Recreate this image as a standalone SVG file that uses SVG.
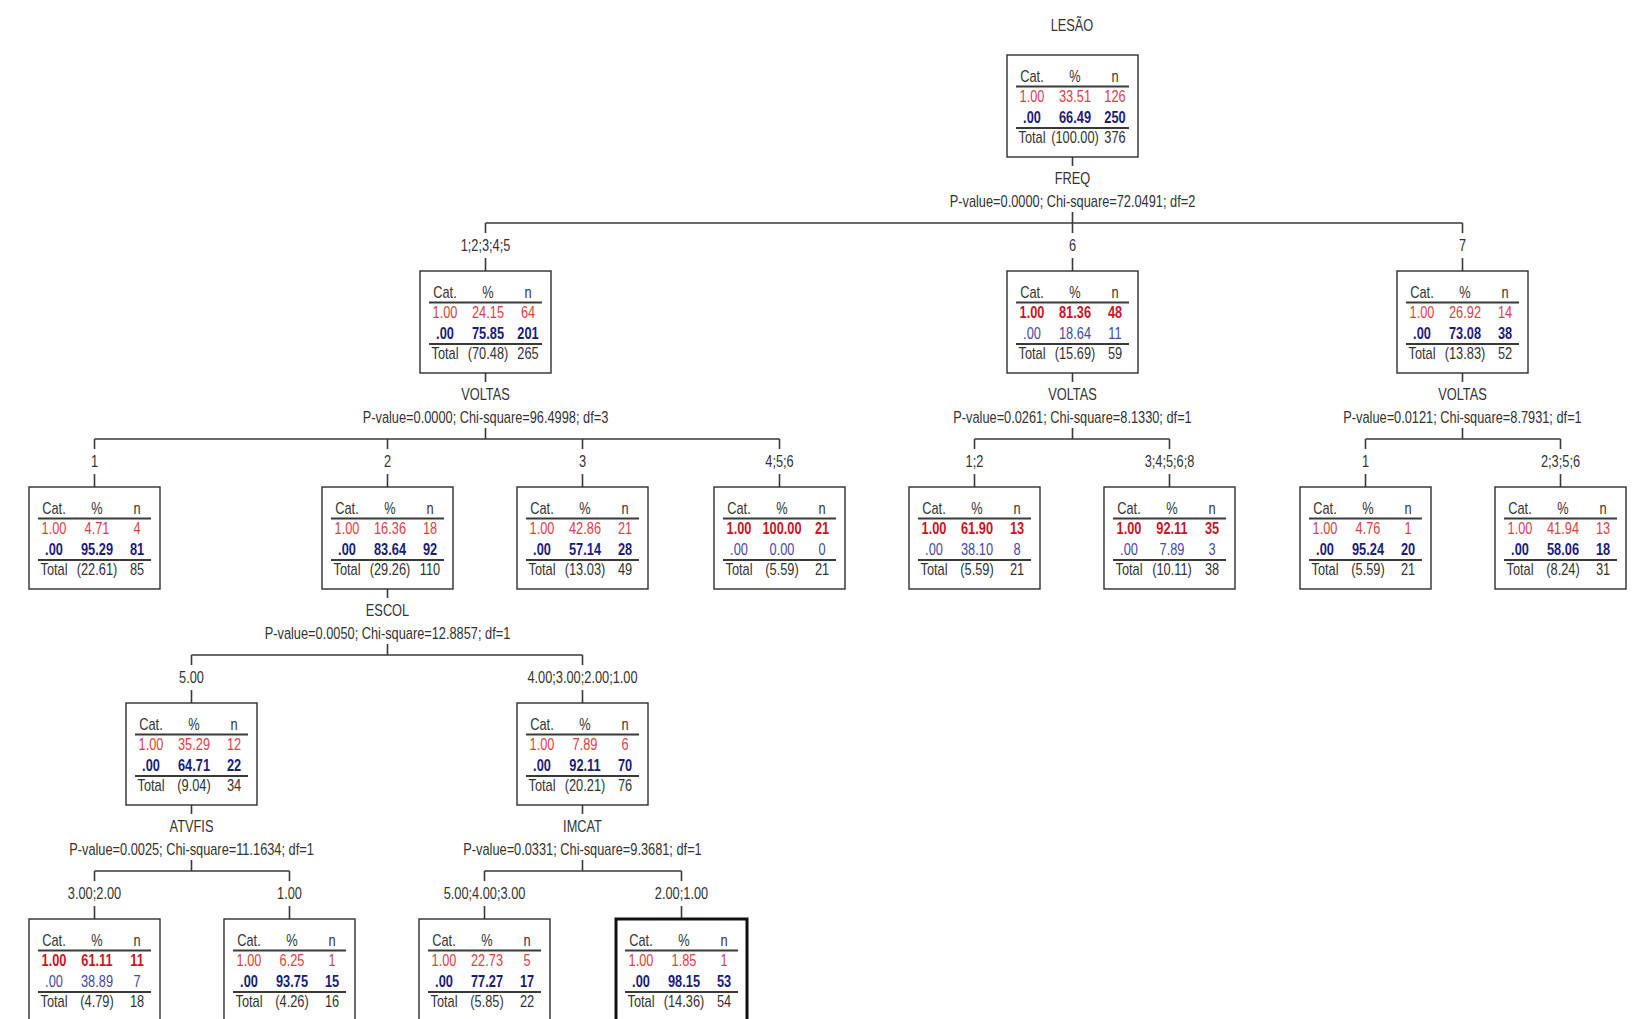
<svg xmlns="http://www.w3.org/2000/svg" width="1636" height="1019" viewBox="0 0 1636 1019">
<style>
text{font-family:"Liberation Sans",Arial,sans-serif;font-size:16px;fill:#333}
.lbl{text-anchor:middle}
.box{fill:#fff;stroke:#2e2e2e;stroke-width:1.4}
.thick{fill:#fff;stroke:#111;stroke-width:3}
.rule{stroke:#3a3a3a;stroke-width:2;fill:none}
.conn{stroke:#3a3a3a;stroke-width:1.6;fill:none}
.c1{text-anchor:middle}
.c2{text-anchor:middle}
.c3{text-anchor:middle}
.r{fill:#e0403f}
.rb{fill:#cc1424;font-weight:bold}
.b{fill:#4848a8}
.bb{fill:#1c1c7a;font-weight:bold}
</style>
<defs>
<g id="frame"><rect class="box" x="0" y="0" width="131" height="102"/><path class="rule" d="M9 31.5H122M9 73H122"/></g>
<g id="frameT"><rect class="thick" x="0" y="0" width="131" height="102"/><path class="rule" d="M9 31.5H122M9 73H122"/></g>
<g id="hdr"><text class="c1" x="31.25" y="27.5">Cat.</text><text class="c2" x="85" y="27.5">%</text><text class="c3" x="135" y="27.5">n</text></g>
</defs>

<g id="connectors">
<path class="conn" d="M1072.5 157V166M1072.5 212V223M485.5 223H1462.5M485.5 223V233M485.5 258V271M1072.5 223V233M1072.5 258V271M1462.5 223V233M1462.5 258V271"/>
<path class="conn" d="M485.5 373V382M485.5 428V439M94.5 439H779.5M94.5 439V449M94.5 474V487M387.5 439V449M387.5 474V487M582.5 439V449M582.5 474V487M779.5 439V449M779.5 474V487"/>
<path class="conn" d="M1072.5 373V382M1072.5 428V439M974.5 439H1169.5M974.5 439V449M974.5 474V487M1169.5 439V449M1169.5 474V487"/>
<path class="conn" d="M1462.5 373V382M1462.5 428V439M1365.5 439H1560.5M1365.5 439V449M1365.5 474V487M1560.5 439V449M1560.5 474V487"/>
<path class="conn" d="M387.5 589V598M387.5 644V655M191.5 655H582.5M191.5 655V665M191.5 690V703M582.5 655V665M582.5 690V703"/>
<path class="conn" d="M191.5 805V814M191.5 860V871M94.5 871H289.5M94.5 871V881M94.5 906V919M289.5 871V881M289.5 906V919"/>
<path class="conn" d="M582.5 805V814M582.5 860V871M484.5 871H681.5M484.5 871V881M484.5 906V919M681.5 871V881M681.5 906V919"/>
</g>

<g id="labels">
<text class="lbl" transform="translate(1072,31) scale(0.8,1)">LESÃO</text>
<text class="lbl" transform="translate(1072.5,184) scale(0.8,1)">FREQ</text>
<text class="lbl" transform="translate(1072.5,207) scale(0.8,1)">P-value=0.0000; Chi-square=72.0491; df=2</text>
<text class="lbl" transform="translate(485.5,251) scale(0.8,1)">1;2;3;4;5</text>
<text class="lbl" transform="translate(1072.5,251) scale(0.8,1)">6</text>
<text class="lbl" transform="translate(1462.5,251) scale(0.8,1)">7</text>

<text class="lbl" transform="translate(485.5,400) scale(0.8,1)">VOLTAS</text>
<text class="lbl" transform="translate(485.5,423) scale(0.8,1)">P-value=0.0000; Chi-square=96.4998; df=3</text>
<text class="lbl" transform="translate(1072.5,400) scale(0.8,1)">VOLTAS</text>
<text class="lbl" transform="translate(1072.5,423) scale(0.8,1)">P-value=0.0261; Chi-square=8.1330; df=1</text>
<text class="lbl" transform="translate(1462.5,400) scale(0.8,1)">VOLTAS</text>
<text class="lbl" transform="translate(1462.5,423) scale(0.8,1)">P-value=0.0121; Chi-square=8.7931; df=1</text>

<text class="lbl" transform="translate(94.5,467) scale(0.8,1)">1</text>
<text class="lbl" transform="translate(387.5,467) scale(0.8,1)">2</text>
<text class="lbl" transform="translate(582.5,467) scale(0.8,1)">3</text>
<text class="lbl" transform="translate(779.5,467) scale(0.8,1)">4;5;6</text>
<text class="lbl" transform="translate(974.5,467) scale(0.8,1)">1;2</text>
<text class="lbl" transform="translate(1169.5,467) scale(0.8,1)">3;4;5;6;8</text>
<text class="lbl" transform="translate(1365.5,467) scale(0.8,1)">1</text>
<text class="lbl" transform="translate(1560.5,467) scale(0.8,1)">2;3;5;6</text>

<text class="lbl" transform="translate(387.5,616) scale(0.8,1)">ESCOL</text>
<text class="lbl" transform="translate(387.5,639) scale(0.8,1)">P-value=0.0050; Chi-square=12.8857; df=1</text>
<text class="lbl" transform="translate(191.5,683) scale(0.8,1)">5.00</text>
<text class="lbl" transform="translate(582.5,683) scale(0.8,1)">4.00;3.00;2.00;1.00</text>

<text class="lbl" transform="translate(191.5,832) scale(0.8,1)">ATVFIS</text>
<text class="lbl" transform="translate(191.5,855) scale(0.8,1)">P-value=0.0025; Chi-square=11.1634; df=1</text>
<text class="lbl" transform="translate(582.5,832) scale(0.8,1)">IMCAT</text>
<text class="lbl" transform="translate(582.5,855) scale(0.8,1)">P-value=0.0331; Chi-square=9.3681; df=1</text>
<text class="lbl" transform="translate(94.5,899) scale(0.8,1)">3.00;2.00</text>
<text class="lbl" transform="translate(289.5,899) scale(0.8,1)">1.00</text>
<text class="lbl" transform="translate(484.5,899) scale(0.8,1)">5.00;4.00;3.00</text>
<text class="lbl" transform="translate(681.5,899) scale(0.8,1)">2.00;1.00</text>
</g>

<g id="node-root" transform="translate(1007,55)"><use href="#frame"/><g transform="scale(0.8,1)"><use href="#hdr"/>
<text class="c1 r" x="31.25" y="47.5">1.00</text><text class="c2 r" x="85" y="47.5">33.51</text><text class="c3 r" x="135" y="47.5">126</text>
<text class="c1 bb" x="31.25" y="68">.00</text><text class="c2 bb" x="85" y="68">66.49</text><text class="c3 bb" x="135" y="68">250</text>
<text class="c1" x="31.25" y="88">Total</text><text class="c2" x="85" y="88">(100.00)</text><text class="c3" x="135" y="88">376</text></g></g>

<g id="node-1" transform="translate(420,271)"><use href="#frame"/><g transform="scale(0.8,1)"><use href="#hdr"/>
<text class="c1 r" x="31.25" y="47.5">1.00</text><text class="c2 r" x="85" y="47.5">24.15</text><text class="c3 r" x="135" y="47.5">64</text>
<text class="c1 bb" x="31.25" y="68">.00</text><text class="c2 bb" x="85" y="68">75.85</text><text class="c3 bb" x="135" y="68">201</text>
<text class="c1" x="31.25" y="88">Total</text><text class="c2" x="85" y="88">(70.48)</text><text class="c3" x="135" y="88">265</text></g></g>

<g id="node-2" transform="translate(1007,271)"><use href="#frame"/><g transform="scale(0.8,1)"><use href="#hdr"/>
<text class="c1 rb" x="31.25" y="47.5">1.00</text><text class="c2 rb" x="85" y="47.5">81.36</text><text class="c3 rb" x="135" y="47.5">48</text>
<text class="c1 b" x="31.25" y="68">.00</text><text class="c2 b" x="85" y="68">18.64</text><text class="c3 b" x="135" y="68">11</text>
<text class="c1" x="31.25" y="88">Total</text><text class="c2" x="85" y="88">(15.69)</text><text class="c3" x="135" y="88">59</text></g></g>

<g id="node-3" transform="translate(1397,271)"><use href="#frame"/><g transform="scale(0.8,1)"><use href="#hdr"/>
<text class="c1 r" x="31.25" y="47.5">1.00</text><text class="c2 r" x="85" y="47.5">26.92</text><text class="c3 r" x="135" y="47.5">14</text>
<text class="c1 bb" x="31.25" y="68">.00</text><text class="c2 bb" x="85" y="68">73.08</text><text class="c3 bb" x="135" y="68">38</text>
<text class="c1" x="31.25" y="88">Total</text><text class="c2" x="85" y="88">(13.83)</text><text class="c3" x="135" y="88">52</text></g></g>

<g id="node-4" transform="translate(29,487)"><use href="#frame"/><g transform="scale(0.8,1)"><use href="#hdr"/>
<text class="c1 r" x="31.25" y="47.5">1.00</text><text class="c2 r" x="85" y="47.5">4.71</text><text class="c3 r" x="135" y="47.5">4</text>
<text class="c1 bb" x="31.25" y="68">.00</text><text class="c2 bb" x="85" y="68">95.29</text><text class="c3 bb" x="135" y="68">81</text>
<text class="c1" x="31.25" y="88">Total</text><text class="c2" x="85" y="88">(22.61)</text><text class="c3" x="135" y="88">85</text></g></g>

<g id="node-5" transform="translate(322,487)"><use href="#frame"/><g transform="scale(0.8,1)"><use href="#hdr"/>
<text class="c1 r" x="31.25" y="47.5">1.00</text><text class="c2 r" x="85" y="47.5">16.36</text><text class="c3 r" x="135" y="47.5">18</text>
<text class="c1 bb" x="31.25" y="68">.00</text><text class="c2 bb" x="85" y="68">83.64</text><text class="c3 bb" x="135" y="68">92</text>
<text class="c1" x="31.25" y="88">Total</text><text class="c2" x="85" y="88">(29.26)</text><text class="c3" x="135" y="88">110</text></g></g>

<g id="node-6" transform="translate(517,487)"><use href="#frame"/><g transform="scale(0.8,1)"><use href="#hdr"/>
<text class="c1 r" x="31.25" y="47.5">1.00</text><text class="c2 r" x="85" y="47.5">42.86</text><text class="c3 r" x="135" y="47.5">21</text>
<text class="c1 bb" x="31.25" y="68">.00</text><text class="c2 bb" x="85" y="68">57.14</text><text class="c3 bb" x="135" y="68">28</text>
<text class="c1" x="31.25" y="88">Total</text><text class="c2" x="85" y="88">(13.03)</text><text class="c3" x="135" y="88">49</text></g></g>

<g id="node-7" transform="translate(714,487)"><use href="#frame"/><g transform="scale(0.8,1)"><use href="#hdr"/>
<text class="c1 rb" x="31.25" y="47.5">1.00</text><text class="c2 rb" x="85" y="47.5">100.00</text><text class="c3 rb" x="135" y="47.5">21</text>
<text class="c1 b" x="31.25" y="68">.00</text><text class="c2 b" x="85" y="68">0.00</text><text class="c3 b" x="135" y="68">0</text>
<text class="c1" x="31.25" y="88">Total</text><text class="c2" x="85" y="88">(5.59)</text><text class="c3" x="135" y="88">21</text></g></g>

<g id="node-8" transform="translate(909,487)"><use href="#frame"/><g transform="scale(0.8,1)"><use href="#hdr"/>
<text class="c1 rb" x="31.25" y="47.5">1.00</text><text class="c2 rb" x="85" y="47.5">61.90</text><text class="c3 rb" x="135" y="47.5">13</text>
<text class="c1 b" x="31.25" y="68">.00</text><text class="c2 b" x="85" y="68">38.10</text><text class="c3 b" x="135" y="68">8</text>
<text class="c1" x="31.25" y="88">Total</text><text class="c2" x="85" y="88">(5.59)</text><text class="c3" x="135" y="88">21</text></g></g>

<g id="node-9" transform="translate(1104,487)"><use href="#frame"/><g transform="scale(0.8,1)"><use href="#hdr"/>
<text class="c1 rb" x="31.25" y="47.5">1.00</text><text class="c2 rb" x="85" y="47.5">92.11</text><text class="c3 rb" x="135" y="47.5">35</text>
<text class="c1 b" x="31.25" y="68">.00</text><text class="c2 b" x="85" y="68">7.89</text><text class="c3 b" x="135" y="68">3</text>
<text class="c1" x="31.25" y="88">Total</text><text class="c2" x="85" y="88">(10.11)</text><text class="c3" x="135" y="88">38</text></g></g>

<g id="node-10" transform="translate(1300,487)"><use href="#frame"/><g transform="scale(0.8,1)"><use href="#hdr"/>
<text class="c1 r" x="31.25" y="47.5">1.00</text><text class="c2 r" x="85" y="47.5">4.76</text><text class="c3 r" x="135" y="47.5">1</text>
<text class="c1 bb" x="31.25" y="68">.00</text><text class="c2 bb" x="85" y="68">95.24</text><text class="c3 bb" x="135" y="68">20</text>
<text class="c1" x="31.25" y="88">Total</text><text class="c2" x="85" y="88">(5.59)</text><text class="c3" x="135" y="88">21</text></g></g>

<g id="node-11" transform="translate(1495,487)"><use href="#frame"/><g transform="scale(0.8,1)"><use href="#hdr"/>
<text class="c1 r" x="31.25" y="47.5">1.00</text><text class="c2 r" x="85" y="47.5">41.94</text><text class="c3 r" x="135" y="47.5">13</text>
<text class="c1 bb" x="31.25" y="68">.00</text><text class="c2 bb" x="85" y="68">58.06</text><text class="c3 bb" x="135" y="68">18</text>
<text class="c1" x="31.25" y="88">Total</text><text class="c2" x="85" y="88">(8.24)</text><text class="c3" x="135" y="88">31</text></g></g>

<g id="node-12" transform="translate(126,703)"><use href="#frame"/><g transform="scale(0.8,1)"><use href="#hdr"/>
<text class="c1 r" x="31.25" y="47.5">1.00</text><text class="c2 r" x="85" y="47.5">35.29</text><text class="c3 r" x="135" y="47.5">12</text>
<text class="c1 bb" x="31.25" y="68">.00</text><text class="c2 bb" x="85" y="68">64.71</text><text class="c3 bb" x="135" y="68">22</text>
<text class="c1" x="31.25" y="88">Total</text><text class="c2" x="85" y="88">(9.04)</text><text class="c3" x="135" y="88">34</text></g></g>

<g id="node-13" transform="translate(517,703)"><use href="#frame"/><g transform="scale(0.8,1)"><use href="#hdr"/>
<text class="c1 r" x="31.25" y="47.5">1.00</text><text class="c2 r" x="85" y="47.5">7.89</text><text class="c3 r" x="135" y="47.5">6</text>
<text class="c1 bb" x="31.25" y="68">.00</text><text class="c2 bb" x="85" y="68">92.11</text><text class="c3 bb" x="135" y="68">70</text>
<text class="c1" x="31.25" y="88">Total</text><text class="c2" x="85" y="88">(20.21)</text><text class="c3" x="135" y="88">76</text></g></g>

<g id="node-14" transform="translate(29,919)"><use href="#frame"/><g transform="scale(0.8,1)"><use href="#hdr"/>
<text class="c1 rb" x="31.25" y="47.5">1.00</text><text class="c2 rb" x="85" y="47.5">61.11</text><text class="c3 rb" x="135" y="47.5">11</text>
<text class="c1 b" x="31.25" y="68">.00</text><text class="c2 b" x="85" y="68">38.89</text><text class="c3 b" x="135" y="68">7</text>
<text class="c1" x="31.25" y="88">Total</text><text class="c2" x="85" y="88">(4.79)</text><text class="c3" x="135" y="88">18</text></g></g>

<g id="node-15" transform="translate(224,919)"><use href="#frame"/><g transform="scale(0.8,1)"><use href="#hdr"/>
<text class="c1 r" x="31.25" y="47.5">1.00</text><text class="c2 r" x="85" y="47.5">6.25</text><text class="c3 r" x="135" y="47.5">1</text>
<text class="c1 bb" x="31.25" y="68">.00</text><text class="c2 bb" x="85" y="68">93.75</text><text class="c3 bb" x="135" y="68">15</text>
<text class="c1" x="31.25" y="88">Total</text><text class="c2" x="85" y="88">(4.26)</text><text class="c3" x="135" y="88">16</text></g></g>

<g id="node-16" transform="translate(419,919)"><use href="#frame"/><g transform="scale(0.8,1)"><use href="#hdr"/>
<text class="c1 r" x="31.25" y="47.5">1.00</text><text class="c2 r" x="85" y="47.5">22.73</text><text class="c3 r" x="135" y="47.5">5</text>
<text class="c1 bb" x="31.25" y="68">.00</text><text class="c2 bb" x="85" y="68">77.27</text><text class="c3 bb" x="135" y="68">17</text>
<text class="c1" x="31.25" y="88">Total</text><text class="c2" x="85" y="88">(5.85)</text><text class="c3" x="135" y="88">22</text></g></g>

<g id="node-17" transform="translate(616,919)"><use href="#frameT"/><g transform="scale(0.8,1)"><use href="#hdr"/>
<text class="c1 r" x="31.25" y="47.5">1.00</text><text class="c2 r" x="85" y="47.5">1.85</text><text class="c3 r" x="135" y="47.5">1</text>
<text class="c1 bb" x="31.25" y="68">.00</text><text class="c2 bb" x="85" y="68">98.15</text><text class="c3 bb" x="135" y="68">53</text>
<text class="c1" x="31.25" y="88">Total</text><text class="c2" x="85" y="88">(14.36)</text><text class="c3" x="135" y="88">54</text></g></g>
</svg>
